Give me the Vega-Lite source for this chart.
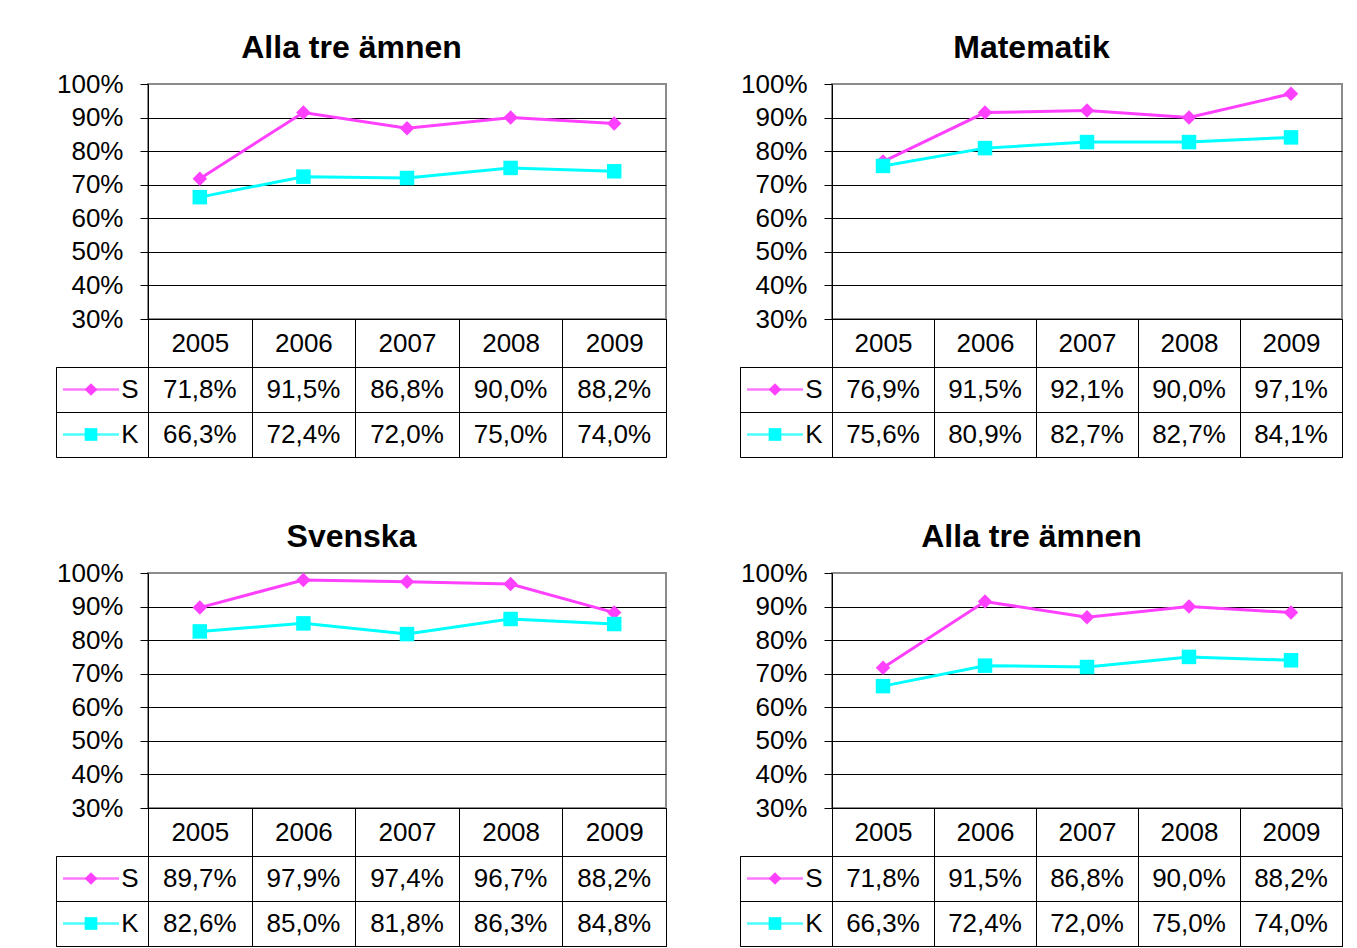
{
  "$schema": "https://vega.github.io/schema/vega-lite/v6.json",
  "background": "white",
  "padding": {"left": 55, "top": 32, "right": 0, "bottom": 0},
  "datasets": {
    "d": [
      {"panel": 1, "year": "2005", "series": "S", "value": 0.718},
      {"panel": 1, "year": "2006", "series": "S", "value": 0.915},
      {"panel": 1, "year": "2007", "series": "S", "value": 0.868},
      {"panel": 1, "year": "2008", "series": "S", "value": 0.900},
      {"panel": 1, "year": "2009", "series": "S", "value": 0.882},
      {"panel": 1, "year": "2005", "series": "K", "value": 0.663},
      {"panel": 1, "year": "2006", "series": "K", "value": 0.724},
      {"panel": 1, "year": "2007", "series": "K", "value": 0.720},
      {"panel": 1, "year": "2008", "series": "K", "value": 0.750},
      {"panel": 1, "year": "2009", "series": "K", "value": 0.740},
      {"panel": 2, "year": "2005", "series": "S", "value": 0.769},
      {"panel": 2, "year": "2006", "series": "S", "value": 0.915},
      {"panel": 2, "year": "2007", "series": "S", "value": 0.921},
      {"panel": 2, "year": "2008", "series": "S", "value": 0.900},
      {"panel": 2, "year": "2009", "series": "S", "value": 0.971},
      {"panel": 2, "year": "2005", "series": "K", "value": 0.756},
      {"panel": 2, "year": "2006", "series": "K", "value": 0.809},
      {"panel": 2, "year": "2007", "series": "K", "value": 0.827},
      {"panel": 2, "year": "2008", "series": "K", "value": 0.827},
      {"panel": 2, "year": "2009", "series": "K", "value": 0.841},
      {"panel": 3, "year": "2005", "series": "S", "value": 0.897},
      {"panel": 3, "year": "2006", "series": "S", "value": 0.979},
      {"panel": 3, "year": "2007", "series": "S", "value": 0.974},
      {"panel": 3, "year": "2008", "series": "S", "value": 0.967},
      {"panel": 3, "year": "2009", "series": "S", "value": 0.882},
      {"panel": 3, "year": "2005", "series": "K", "value": 0.826},
      {"panel": 3, "year": "2006", "series": "K", "value": 0.850},
      {"panel": 3, "year": "2007", "series": "K", "value": 0.818},
      {"panel": 3, "year": "2008", "series": "K", "value": 0.863},
      {"panel": 3, "year": "2009", "series": "K", "value": 0.848},
      {"panel": 4, "year": "2005", "series": "S", "value": 0.718},
      {"panel": 4, "year": "2006", "series": "S", "value": 0.915},
      {"panel": 4, "year": "2007", "series": "S", "value": 0.868},
      {"panel": 4, "year": "2008", "series": "S", "value": 0.900},
      {"panel": 4, "year": "2009", "series": "S", "value": 0.882},
      {"panel": 4, "year": "2005", "series": "K", "value": 0.663},
      {"panel": 4, "year": "2006", "series": "K", "value": 0.724},
      {"panel": 4, "year": "2007", "series": "K", "value": 0.720},
      {"panel": 4, "year": "2008", "series": "K", "value": 0.750},
      {"panel": 4, "year": "2009", "series": "K", "value": 0.740}
    ]
  },
  "config": {
    "font": "Liberation Sans",
    "view": {"stroke": null},
    "locale": {"number": {"decimal": ",", "thousands": " ", "grouping": [3], "currency": ["", " kr"]}},
    "axis": {"labelFont": "Liberation Sans", "labelColor": "black", "labelFontSize": 26, "titleFont": "Liberation Sans"},
    "text": {"font": "Liberation Sans", "fontSize": 26, "color": "black"},
    "title": {"font": "Liberation Sans", "fontSize": 32, "fontWeight": "bold", "color": "black", "anchor": "middle", "offset": 5, "dx": -10}
  },
  "columns": 2,
  "align": "each",
  "bounds": "full",
  "spacing": {"row": 63, "column": 71},
  "resolve": {"scale": {"x": "independent", "y": "independent"}},
  "concat": [
    {
      "title": {"text": "Alla tre ämnen"},
      "columns": 2, "align": "each", "bounds": "flush", "spacing": {"row": 48, "column": 0},
      "resolve": {"scale": {"x": "independent", "y": "independent"}},
      "concat": [
        {"width": 92, "height": 235, "data": {"values": []}, "mark": "point", "encoding": {}},
        {
          "width": 518, "height": 235,
          "view": {"stroke": "#8c8c8c", "strokeWidth": 2},
          "data": {"name": "d"},
          "transform": [{"filter": "datum.panel == 1"}],
          "encoding": {
            "x": {"field": "year", "type": "ordinal", "bandPosition": 0.5, "scale": {"type": "band", "paddingInner": 0, "paddingOuter": 0},
              "axis": {"orient": "bottom", "title": null, "labelAngle": 0, "labelBaseline": "middle", "labelPadding": -24, "tickSize": 48, "tickBand": "extent", "tickColor": "black", "domainColor": "black", "grid": false}},
            "y": {"field": "value", "type": "quantitative", "scale": {"domain": [0.3, 1], "nice": false, "zero": false},
              "axis": {"values": [0.3, 0.4, 0.5, 0.6, 0.7, 0.8, 0.9, 1], "format": ".0%", "title": null, "tickSize": 8, "tickColor": "black", "domainColor": "black", "grid": true, "gridColor": {"condition": {"test": "datum.value >= 0.999", "value": "#8c8c8c"}, "value": "black"}, "labelPadding": 17}},
            "color": {"field": "series", "type": "nominal", "scale": {"domain": ["S", "K"], "range": ["#ff40ff", "#00ffff"]}, "legend": null}
          },
          "layer": [
            {"mark": {"type": "line", "strokeWidth": 3}},
            {"mark": {"type": "point", "filled": true, "opacity": 1, "size": 210},
              "encoding": {"shape": {"field": "series", "type": "nominal", "scale": {"domain": ["S", "K"], "range": ["diamond", "square"]}, "legend": null}}}
          ]
        },
        {
          "width": 92, "height": 90,
          "view": {"stroke": "black", "strokeWidth": 1},
          "data": {"name": "d"},
          "transform": [{"filter": "datum.panel == 1 && datum.year == '2005'"}],
          "encoding": {
            "y": {"field": "series", "type": "nominal", "scale": {"domain": ["S", "K"], "paddingInner": 0, "paddingOuter": 0},
              "axis": {"orient": "right", "title": null, "domain": false, "ticks": false, "grid": true, "gridColor": "black", "tickBand": "extent", "labelAlign": "right", "labelPadding": -10}},
            "color": {"field": "series", "type": "nominal", "scale": {"domain": ["S", "K"], "range": ["#ff40ff", "#00ffff"]}, "legend": null}
          },
          "layer": [
            {"mark": {"type": "tick", "orient": "horizontal", "size": 56, "thickness": 2.5, "xOffset": -11}},
            {"mark": {"type": "point", "filled": true, "opacity": 1, "size": 160, "xOffset": -11},
              "encoding": {"shape": {"field": "series", "type": "nominal", "scale": {"domain": ["S", "K"], "range": ["diamond", "square"]}, "legend": null}}}
          ]
        },
        {
          "width": 518, "height": 90,
          "view": {"stroke": "black", "strokeWidth": 1},
          "data": {"name": "d"},
          "transform": [{"filter": "datum.panel == 1"}],
          "mark": {"type": "text"},
          "encoding": {
            "x": {"field": "year", "type": "ordinal", "scale": {"type": "band", "paddingInner": 0, "paddingOuter": 0},
              "axis": {"title": null, "labels": false, "ticks": false, "domain": false, "grid": true, "gridColor": "black", "tickBand": "extent"}},
            "y": {"field": "series", "type": "nominal", "scale": {"domain": ["S", "K"], "paddingInner": 0, "paddingOuter": 0},
              "axis": {"title": null, "labels": false, "ticks": false, "domain": false, "grid": true, "gridColor": "black", "tickBand": "extent"}},
            "text": {"field": "value", "type": "quantitative", "format": ".1%"}
          }
        }
      ]
    },
    {
      "title": {"text": "Matematik"},
      "columns": 2, "align": "each", "bounds": "flush", "spacing": {"row": 48, "column": 0},
      "resolve": {"scale": {"x": "independent", "y": "independent"}},
      "concat": [
        {"width": 92, "height": 235, "data": {"values": []}, "mark": "point", "encoding": {}},
        {
          "width": 510, "height": 235,
          "view": {"stroke": "#8c8c8c", "strokeWidth": 2},
          "data": {"name": "d"},
          "transform": [{"filter": "datum.panel == 2"}],
          "encoding": {
            "x": {"field": "year", "type": "ordinal", "bandPosition": 0.5, "scale": {"type": "band", "paddingInner": 0, "paddingOuter": 0},
              "axis": {"orient": "bottom", "title": null, "labelAngle": 0, "labelBaseline": "middle", "labelPadding": -24, "tickSize": 48, "tickBand": "extent", "tickColor": "black", "domainColor": "black", "grid": false}},
            "y": {"field": "value", "type": "quantitative", "scale": {"domain": [0.3, 1], "nice": false, "zero": false},
              "axis": {"values": [0.3, 0.4, 0.5, 0.6, 0.7, 0.8, 0.9, 1], "format": ".0%", "title": null, "tickSize": 8, "tickColor": "black", "domainColor": "black", "grid": true, "gridColor": {"condition": {"test": "datum.value >= 0.999", "value": "#8c8c8c"}, "value": "black"}, "labelPadding": 17}},
            "color": {"field": "series", "type": "nominal", "scale": {"domain": ["S", "K"], "range": ["#ff40ff", "#00ffff"]}, "legend": null}
          },
          "layer": [
            {"mark": {"type": "line", "strokeWidth": 3}},
            {"mark": {"type": "point", "filled": true, "opacity": 1, "size": 210},
              "encoding": {"shape": {"field": "series", "type": "nominal", "scale": {"domain": ["S", "K"], "range": ["diamond", "square"]}, "legend": null}}}
          ]
        },
        {
          "width": 92, "height": 90,
          "view": {"stroke": "black", "strokeWidth": 1},
          "data": {"name": "d"},
          "transform": [{"filter": "datum.panel == 2 && datum.year == '2005'"}],
          "encoding": {
            "y": {"field": "series", "type": "nominal", "scale": {"domain": ["S", "K"], "paddingInner": 0, "paddingOuter": 0},
              "axis": {"orient": "right", "title": null, "domain": false, "ticks": false, "grid": true, "gridColor": "black", "tickBand": "extent", "labelAlign": "right", "labelPadding": -10}},
            "color": {"field": "series", "type": "nominal", "scale": {"domain": ["S", "K"], "range": ["#ff40ff", "#00ffff"]}, "legend": null}
          },
          "layer": [
            {"mark": {"type": "tick", "orient": "horizontal", "size": 56, "thickness": 2.5, "xOffset": -11}},
            {"mark": {"type": "point", "filled": true, "opacity": 1, "size": 160, "xOffset": -11},
              "encoding": {"shape": {"field": "series", "type": "nominal", "scale": {"domain": ["S", "K"], "range": ["diamond", "square"]}, "legend": null}}}
          ]
        },
        {
          "width": 510, "height": 90,
          "view": {"stroke": "black", "strokeWidth": 1},
          "data": {"name": "d"},
          "transform": [{"filter": "datum.panel == 2"}],
          "mark": {"type": "text"},
          "encoding": {
            "x": {"field": "year", "type": "ordinal", "scale": {"type": "band", "paddingInner": 0, "paddingOuter": 0},
              "axis": {"title": null, "labels": false, "ticks": false, "domain": false, "grid": true, "gridColor": "black", "tickBand": "extent"}},
            "y": {"field": "series", "type": "nominal", "scale": {"domain": ["S", "K"], "paddingInner": 0, "paddingOuter": 0},
              "axis": {"title": null, "labels": false, "ticks": false, "domain": false, "grid": true, "gridColor": "black", "tickBand": "extent"}},
            "text": {"field": "value", "type": "quantitative", "format": ".1%"}
          }
        }
      ]
    },
    {
      "title": {"text": "Svenska"},
      "columns": 2, "align": "each", "bounds": "flush", "spacing": {"row": 48, "column": 0},
      "resolve": {"scale": {"x": "independent", "y": "independent"}},
      "concat": [
        {"width": 92, "height": 235, "data": {"values": []}, "mark": "point", "encoding": {}},
        {
          "width": 518, "height": 235,
          "view": {"stroke": "#8c8c8c", "strokeWidth": 2},
          "data": {"name": "d"},
          "transform": [{"filter": "datum.panel == 3"}],
          "encoding": {
            "x": {"field": "year", "type": "ordinal", "bandPosition": 0.5, "scale": {"type": "band", "paddingInner": 0, "paddingOuter": 0},
              "axis": {"orient": "bottom", "title": null, "labelAngle": 0, "labelBaseline": "middle", "labelPadding": -24, "tickSize": 48, "tickBand": "extent", "tickColor": "black", "domainColor": "black", "grid": false}},
            "y": {"field": "value", "type": "quantitative", "scale": {"domain": [0.3, 1], "nice": false, "zero": false},
              "axis": {"values": [0.3, 0.4, 0.5, 0.6, 0.7, 0.8, 0.9, 1], "format": ".0%", "title": null, "tickSize": 8, "tickColor": "black", "domainColor": "black", "grid": true, "gridColor": {"condition": {"test": "datum.value >= 0.999", "value": "#8c8c8c"}, "value": "black"}, "labelPadding": 17}},
            "color": {"field": "series", "type": "nominal", "scale": {"domain": ["S", "K"], "range": ["#ff40ff", "#00ffff"]}, "legend": null}
          },
          "layer": [
            {"mark": {"type": "line", "strokeWidth": 3}},
            {"mark": {"type": "point", "filled": true, "opacity": 1, "size": 210},
              "encoding": {"shape": {"field": "series", "type": "nominal", "scale": {"domain": ["S", "K"], "range": ["diamond", "square"]}, "legend": null}}}
          ]
        },
        {
          "width": 92, "height": 90,
          "view": {"stroke": "black", "strokeWidth": 1},
          "data": {"name": "d"},
          "transform": [{"filter": "datum.panel == 3 && datum.year == '2005'"}],
          "encoding": {
            "y": {"field": "series", "type": "nominal", "scale": {"domain": ["S", "K"], "paddingInner": 0, "paddingOuter": 0},
              "axis": {"orient": "right", "title": null, "domain": false, "ticks": false, "grid": true, "gridColor": "black", "tickBand": "extent", "labelAlign": "right", "labelPadding": -10}},
            "color": {"field": "series", "type": "nominal", "scale": {"domain": ["S", "K"], "range": ["#ff40ff", "#00ffff"]}, "legend": null}
          },
          "layer": [
            {"mark": {"type": "tick", "orient": "horizontal", "size": 56, "thickness": 2.5, "xOffset": -11}},
            {"mark": {"type": "point", "filled": true, "opacity": 1, "size": 160, "xOffset": -11},
              "encoding": {"shape": {"field": "series", "type": "nominal", "scale": {"domain": ["S", "K"], "range": ["diamond", "square"]}, "legend": null}}}
          ]
        },
        {
          "width": 518, "height": 90,
          "view": {"stroke": "black", "strokeWidth": 1},
          "data": {"name": "d"},
          "transform": [{"filter": "datum.panel == 3"}],
          "mark": {"type": "text"},
          "encoding": {
            "x": {"field": "year", "type": "ordinal", "scale": {"type": "band", "paddingInner": 0, "paddingOuter": 0},
              "axis": {"title": null, "labels": false, "ticks": false, "domain": false, "grid": true, "gridColor": "black", "tickBand": "extent"}},
            "y": {"field": "series", "type": "nominal", "scale": {"domain": ["S", "K"], "paddingInner": 0, "paddingOuter": 0},
              "axis": {"title": null, "labels": false, "ticks": false, "domain": false, "grid": true, "gridColor": "black", "tickBand": "extent"}},
            "text": {"field": "value", "type": "quantitative", "format": ".1%"}
          }
        }
      ]
    },
    {
      "title": {"text": "Alla tre ämnen"},
      "columns": 2, "align": "each", "bounds": "flush", "spacing": {"row": 48, "column": 0},
      "resolve": {"scale": {"x": "independent", "y": "independent"}},
      "concat": [
        {"width": 92, "height": 235, "data": {"values": []}, "mark": "point", "encoding": {}},
        {
          "width": 510, "height": 235,
          "view": {"stroke": "#8c8c8c", "strokeWidth": 2},
          "data": {"name": "d"},
          "transform": [{"filter": "datum.panel == 4"}],
          "encoding": {
            "x": {"field": "year", "type": "ordinal", "bandPosition": 0.5, "scale": {"type": "band", "paddingInner": 0, "paddingOuter": 0},
              "axis": {"orient": "bottom", "title": null, "labelAngle": 0, "labelBaseline": "middle", "labelPadding": -24, "tickSize": 48, "tickBand": "extent", "tickColor": "black", "domainColor": "black", "grid": false}},
            "y": {"field": "value", "type": "quantitative", "scale": {"domain": [0.3, 1], "nice": false, "zero": false},
              "axis": {"values": [0.3, 0.4, 0.5, 0.6, 0.7, 0.8, 0.9, 1], "format": ".0%", "title": null, "tickSize": 8, "tickColor": "black", "domainColor": "black", "grid": true, "gridColor": {"condition": {"test": "datum.value >= 0.999", "value": "#8c8c8c"}, "value": "black"}, "labelPadding": 17}},
            "color": {"field": "series", "type": "nominal", "scale": {"domain": ["S", "K"], "range": ["#ff40ff", "#00ffff"]}, "legend": null}
          },
          "layer": [
            {"mark": {"type": "line", "strokeWidth": 3}},
            {"mark": {"type": "point", "filled": true, "opacity": 1, "size": 210},
              "encoding": {"shape": {"field": "series", "type": "nominal", "scale": {"domain": ["S", "K"], "range": ["diamond", "square"]}, "legend": null}}}
          ]
        },
        {
          "width": 92, "height": 90,
          "view": {"stroke": "black", "strokeWidth": 1},
          "data": {"name": "d"},
          "transform": [{"filter": "datum.panel == 4 && datum.year == '2005'"}],
          "encoding": {
            "y": {"field": "series", "type": "nominal", "scale": {"domain": ["S", "K"], "paddingInner": 0, "paddingOuter": 0},
              "axis": {"orient": "right", "title": null, "domain": false, "ticks": false, "grid": true, "gridColor": "black", "tickBand": "extent", "labelAlign": "right", "labelPadding": -10}},
            "color": {"field": "series", "type": "nominal", "scale": {"domain": ["S", "K"], "range": ["#ff40ff", "#00ffff"]}, "legend": null}
          },
          "layer": [
            {"mark": {"type": "tick", "orient": "horizontal", "size": 56, "thickness": 2.5, "xOffset": -11}},
            {"mark": {"type": "point", "filled": true, "opacity": 1, "size": 160, "xOffset": -11},
              "encoding": {"shape": {"field": "series", "type": "nominal", "scale": {"domain": ["S", "K"], "range": ["diamond", "square"]}, "legend": null}}}
          ]
        },
        {
          "width": 510, "height": 90,
          "view": {"stroke": "black", "strokeWidth": 1},
          "data": {"name": "d"},
          "transform": [{"filter": "datum.panel == 4"}],
          "mark": {"type": "text"},
          "encoding": {
            "x": {"field": "year", "type": "ordinal", "scale": {"type": "band", "paddingInner": 0, "paddingOuter": 0},
              "axis": {"title": null, "labels": false, "ticks": false, "domain": false, "grid": true, "gridColor": "black", "tickBand": "extent"}},
            "y": {"field": "series", "type": "nominal", "scale": {"domain": ["S", "K"], "paddingInner": 0, "paddingOuter": 0},
              "axis": {"title": null, "labels": false, "ticks": false, "domain": false, "grid": true, "gridColor": "black", "tickBand": "extent"}},
            "text": {"field": "value", "type": "quantitative", "format": ".1%"}
          }
        }
      ]
    }
  ]
}
